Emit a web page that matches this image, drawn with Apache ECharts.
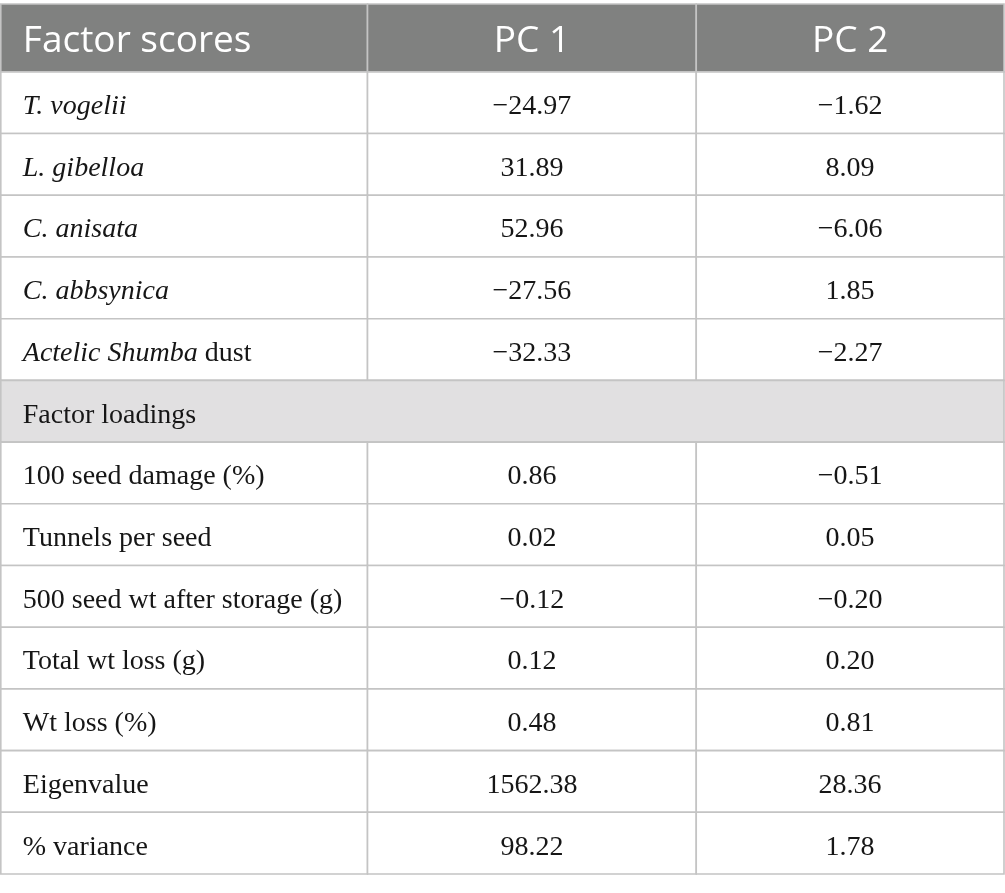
<!DOCTYPE html>
<html>
<head>
<meta charset="utf-8">
<script src="https://cdn.jsdelivr.net/npm/echarts@6/dist/echarts.min.js"></script>
<style>
html,body{margin:0;padding:0;background:#fff;}
#main{width:1005px;height:893px;}
</style>
</head>
<body>
<div id="main"></div>
<script>
// ---- data ----
const columns = ['Factor scores', 'PC 1', 'PC 2'];
const scoreRows = ['{i|T. vogelii}', '{i|L. gibelloa}', '{i|C. anisata}', '{i|C. abbsynica}', '{i|Actelic Shumba} dust'];
const scorePC1 = [-24.97, 31.89, 52.96, -27.56, -32.33];
const scorePC2 = [-1.62, 8.09, -6.06, 1.85, -2.27];
const loadingsTitle = 'Factor loadings';
const loadingRows = ['100 seed damage (%)', 'Tunnels per seed', '500 seed wt after storage (g)', 'Total wt loss (g)', 'Wt loss (%)'];
const loadingPC1 = [0.86, 0.02, -0.12, 0.12, 0.48];
const loadingPC2 = [-0.51, 0.05, -0.20, 0.20, 0.81];
const summaryRows = ['Eigenvalue', '% variance'];
const summaryPC1 = [1562.38, 98.22];
const summaryPC2 = [28.36, 1.78];

// ---- layout ----
const colEdges = [0, 367, 696, 1004];
const headerSpan = 1.1;

function fmt(v) {
  return (v < 0 ? '\u2212' : '') + Math.abs(v).toFixed(2);
}

// cells: [col, row, text, kind]  kind: 'header' | 'body' | 'section'
const cells = [];
columns.forEach((c, i) => cells.push([i, -1, c, 'header']));
let r = 0;
scoreRows.forEach((name, i) => {
  cells.push([0, r, name, 'body']);
  cells.push([1, r, fmt(scorePC1[i]), 'body']);
  cells.push([2, r, fmt(scorePC2[i]), 'body']);
  r++;
});
cells.push([-1, r, loadingsTitle, 'section']);
r++;
loadingRows.forEach((name, i) => {
  cells.push([0, r, name, 'body']);
  cells.push([1, r, fmt(loadingPC1[i]), 'body']);
  cells.push([2, r, fmt(loadingPC2[i]), 'body']);
  r++;
});
summaryRows.forEach((name, i) => {
  cells.push([0, r, name, 'body']);
  cells.push([1, r, fmt(summaryPC1[i]), 'body']);
  cells.push([2, r, fmt(summaryPC2[i]), 'body']);
  r++;
});
const totalRows = r;

const serif = 'Liberation Serif';
const sans = 'Open Sans';

function renderItem(params, api) {
  const col = api.value(0);
  const row = api.value(1);
  const item = cells[params.dataIndex];
  const text = item[2];
  const kind = item[3];
  const x0v = col < 0 ? colEdges[0] : colEdges[col];
  const x1v = col < 0 ? colEdges[colEdges.length - 1] : colEdges[col + 1];
  const y0v = row < 0 ? -headerSpan : row;
  const y1v = row < 0 ? 0 : row + 1;
  const p0 = api.coord([x0v, y0v]);
  const p1 = api.coord([x1v, y1v]);
  const x = Math.min(p0[0], p1[0]), y = Math.min(p0[1], p1[1]);
  const w = Math.abs(p1[0] - p0[0]), h = Math.abs(p1[1] - p0[1]);
  let fill = '#ffffff';
  if (kind === 'header') fill = '#808180';
  if (kind === 'section') fill = '#e1e0e1';
  const leftAligned = col <= 0;
  const isHeader = kind === 'header';
  const fontSize = isHeader ? 37 : 28;
  const family = isHeader ? sans : serif;
  const color = isHeader ? '#ffffff' : '#161616';
  return {
    type: 'group',
    children: [
      {
        type: 'rect',
        shape: { x: x, y: y, width: w, height: h },
        style: { fill: fill, stroke: '#c4c4c4', lineWidth: 1.6 }
      },
      {
        type: 'text',
        style: {
          text: text,
          x: leftAligned ? x + 22 : x + w / 2,
          y: y + h / 2 + (isHeader ? 4 : 4),
          align: leftAligned ? 'left' : 'center',
          verticalAlign: 'middle',
          fontSize: fontSize,
          fontFamily: family,
          fill: color,
          rich: {
            i: { fontSize: fontSize, fontFamily: family, fontStyle: 'italic', fill: color }
          }
        }
      }
    ]
  };
}

const chart = echarts.init(document.getElementById('main'), null, { renderer: 'canvas' });
chart.setOption({
  animation: false,
  grid: { left: 0.8, right: 1, top: 4, bottom: 19 },
  xAxis: { type: 'value', min: colEdges[0], max: colEdges[colEdges.length - 1], show: false },
  yAxis: { type: 'value', min: -headerSpan, max: totalRows, inverse: true, show: false },
  series: [{
    type: 'custom',
    renderItem: renderItem,
    data: cells.map(c => [c[0], c[1]]),
    clip: false,
    silent: true
  }]
});
</script>
</body>
</html>
